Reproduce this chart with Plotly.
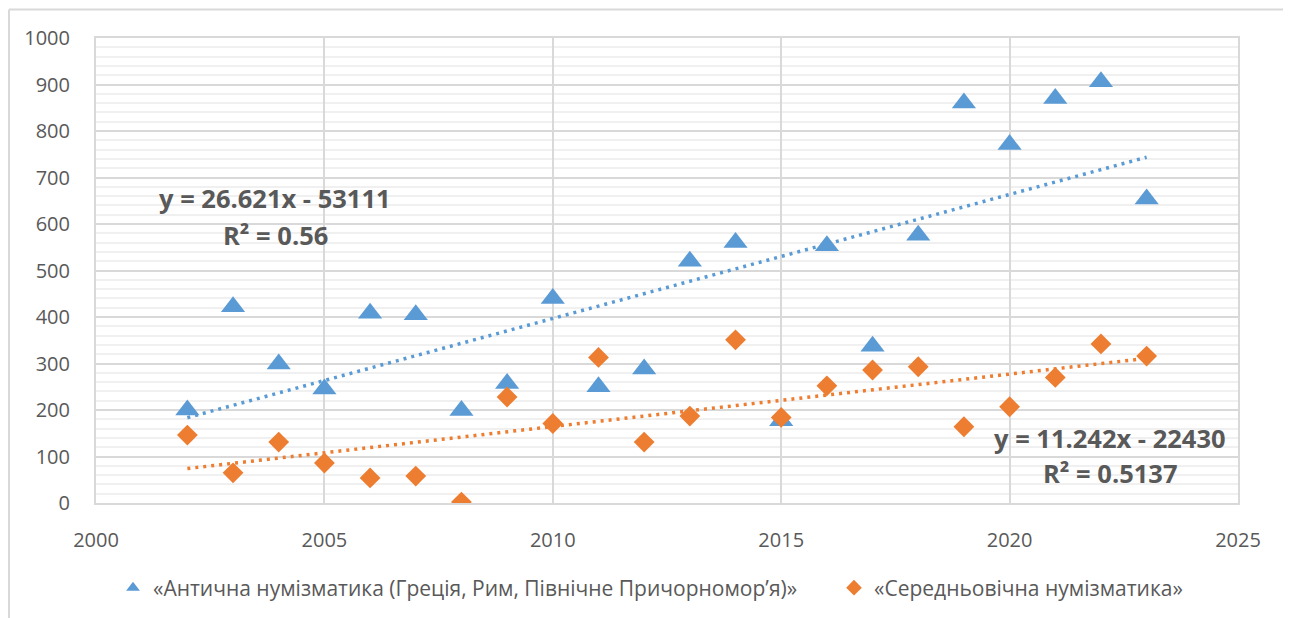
import numpy as np
import plotly.graph_objects as go

years = [2002, 2003, 2004, 2005, 2006, 2007, 2008, 2009, 2010, 2011, 2012,
         2013, 2014, 2015, 2016, 2017, 2018, 2019, 2020, 2021, 2022, 2023]
antique = [200, 422, 299, 245, 408, 405, 199, 257, 440, 250, 288,
           520, 560, 177, 553, 337, 576, 860, 771, 870, 906, 654]
medieval = [146, 65, 131, 86, 54, 58, 2, 228, 171, 313, 131,
            187, 351, 184, 252, 286, 293, 164, 207, 270, 342, 316]

name_a = "«Антична нумізматика (Греція, Рим, Північне Причорномор’я)»"
name_m = "«Середньовічна нумізматика»"
eq_a = ["y = 26.621x - 53111", "R² = 0.56"]
eq_m = ["y = 11.242x - 22430", "R² = 0.5137"]

BLUE = "#5B9BD5"
ORANGE = "#ED7D31"
TXT = "#595959"
FONT = "Open Sans"

x = np.array(years, dtype=float)
fa = np.polyfit(x, antique, 1)
fm = np.polyfit(x, medieval, 1)
xt = np.array([years[0], years[-1]], dtype=float)

fig = go.Figure()
fig.add_trace(go.Scatter(x=xt, y=np.polyval(fa, xt), mode="lines",
                         line=dict(color=BLUE, width=3.5, dash="3px,5px"),
                         showlegend=False, hoverinfo="skip"))
fig.add_trace(go.Scatter(x=xt, y=np.polyval(fm, xt), mode="lines",
                         line=dict(color=ORANGE, width=3.5, dash="3px,5px"),
                         showlegend=False, hoverinfo="skip"))
fig.add_trace(go.Scatter(x=years, y=antique, mode="markers", name=name_a, legend="legend",
                         marker=dict(symbol="triangle-up", size=21, color=BLUE)))
fig.add_trace(go.Scatter(x=years, y=medieval, mode="markers", name=name_m, legend="legend2",
                         marker=dict(symbol="diamond", size=16, color=ORANGE)))

# page body has an 8px margin; work in page coordinates and shift
OFF = 8
W, H = 1291 - OFF, 618 - OFF
L, T = 96 - OFF, 38 - OFF
R = W - (1238 - OFF)
B = H - (503 - OFF)
pw, ph = W - L - R, H - T - B

def px(xp):
    return (xp - OFF - L) / pw

def py(yp):
    return (H - B - (yp - OFF)) / ph

anns = []
for txt, xc, yc in [(eq_a[0], 275, 198), (eq_a[1], 275, 235),
                    (eq_m[0], 1110, 438), (eq_m[1], 1110, 473)]:
    anns.append(dict(text=f"<b>{txt}</b>", x=px(xc), y=py(yc), xref="paper", yref="paper",
                     showarrow=False, xanchor="center", yanchor="middle",
                     font=dict(family=FONT, size=25.5, color=TXT)))

shapes = [
    dict(type="line", xref="paper", yref="paper", x0=px(OFF + 1), x1=px(1295), y0=py(9.5), y1=py(9.5),
         line=dict(color="#D9D9D9", width=2)),
    dict(type="line", xref="paper", yref="paper", x0=px(OFF + 1), x1=px(OFF + 1), y0=py(9.5), y1=py(625),
         line=dict(color="#D9D9D9", width=2)),
]

leg_common = dict(orientation="h", xanchor="left", yanchor="middle", y=py(588),
                  font=dict(family=FONT, size=21, color=TXT), itemsizing="constant",
                  bgcolor="rgba(0,0,0,0)")

fig.update_layout(
    width=W, height=H,
    margin=dict(l=L, r=R, t=T, b=B, autoexpand=False),
    paper_bgcolor="white", plot_bgcolor="white",
    font=dict(family=FONT, size=20, color=TXT),
    annotations=anns, shapes=shapes,
    legend=dict(x=px(113), **leg_common),
    legend2=dict(x=px(834), **leg_common),
    xaxis=dict(range=[2000, 2025], dtick=5, tick0=2000, showgrid=True, gridcolor="#D9D9D9",
               gridwidth=1.5, zeroline=False, showline=True, linecolor="#D9D9D9", linewidth=2,
               mirror=True, ticks="", ticklabelstandoff=18,
               tickfont=dict(family=FONT, size=20, color=TXT)),
    yaxis=dict(range=[0, 1000], dtick=100, tick0=0, showgrid=True, gridcolor="#D9D9D9",
               gridwidth=1.5, zeroline=False, showline=True, linecolor="#D9D9D9", linewidth=2,
               mirror=True, ticks="", ticklabelstandoff=20,
               minor=dict(dtick=20, showgrid=True, gridcolor="#F0F0F0", gridwidth=1.5),
               tickfont=dict(family=FONT, size=20, color=TXT)),
)

fig.write_html("out.html")
